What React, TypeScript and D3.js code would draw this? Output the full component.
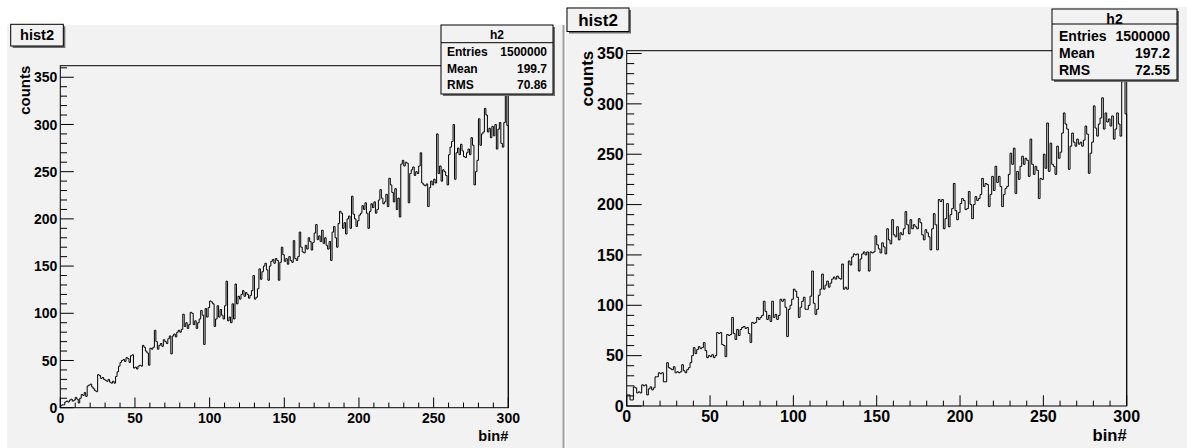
import React, { useRef, useEffect } from 'react';
import * as d3 from 'd3';

const xTicks = [0, 50, 100, 150, 200, 250, 300];
const yTicks = [0, 50, 100, 150, 200, 250, 300, 350];
const xMax = 300;

const leftCounts = [
  2, 3, 3, 6, 7, 6, 8, 9, 7, 8,
  11, 9, 5, 10, 14, 13, 16, 12, 23, 24,
  25, 22, 20, 18, 17, 35, 34, 31, 32, 30,
  29, 28, 30, 27, 26, 28, 26, 33, 38, 44,
  48, 50, 51, 49, 53, 52, 48, 55, 56, 42,
  43, 41, 44, 45, 44, 66, 64, 60, 58, 45,
  63, 62, 64, 82, 70, 62, 66, 68, 65, 72,
  70, 68, 73, 76, 57, 76, 78, 75, 80, 82,
  80, 83, 99, 86, 90, 84, 88, 101, 100, 88,
  92, 84, 90, 94, 103, 98, 67, 105, 96, 106,
  113, 112, 110, 86, 94, 108, 96, 104, 98, 94,
  108, 134, 92, 96, 90, 110, 94, 131, 110, 118,
  115, 120, 124, 118, 122, 120, 116, 119, 124, 140,
  115, 117, 126, 147, 136, 144, 150, 153, 146, 135,
  150, 155, 157, 153, 158, 156, 135, 154, 170, 162,
  155, 158, 152, 160, 156, 154, 177, 158, 156, 160,
  186, 170, 165, 164, 172, 168, 180, 176, 167, 175,
  185, 194, 178, 182, 176, 188, 174, 180, 172, 168,
  176, 156, 186, 192, 180, 170, 195, 208, 206, 190,
  196, 184, 200, 203, 190, 224, 205, 200, 192, 198,
  204, 206, 214, 210, 217, 206, 190, 208, 216, 212,
  218, 206, 210, 220, 231, 222, 216, 218, 226, 213,
  243, 236, 228, 218, 232, 210, 222, 202, 258, 262,
  256, 260, 259, 217, 248, 252, 255, 246, 250, 248,
  256, 270, 238, 236, 235, 237, 213, 233, 240, 236,
  242, 238, 290, 248, 256, 240, 252, 250, 246, 236,
  268, 276, 282, 300, 242, 270, 275, 268, 279, 272,
  266, 265, 270, 274, 268, 286, 278, 236, 250, 262,
  306, 278, 290, 292, 317, 310, 292, 296, 286, 298,
  288, 300, 274, 295, 302, 280, 276, 302, 345, 299,
];

const rightCounts = [
  11, 11, 6, 6, 19, 18, 13, 14, 13, 21,
  20, 21, 11, 17, 19, 16, 18, 29, 29, 33,
  32, 33, 24, 24, 43, 38, 37, 36, 39, 33,
  34, 33, 34, 41, 35, 33, 36, 38, 43, 50,
  58, 52, 56, 59, 57, 58, 63, 55, 48, 50,
  49, 51, 48, 50, 73, 72, 73, 61, 60, 49,
  71, 70, 71, 88, 72, 66, 76, 70, 76, 78,
  79, 77, 78, 72, 63, 83, 82, 83, 88, 86,
  88, 90, 104, 94, 86, 90, 84, 104, 88, 91,
  86, 90, 106, 104, 106, 98, 69, 96, 100, 106,
  116, 114, 108, 88, 98, 104, 108, 96, 96, 100,
  109, 134, 102, 91, 96, 110, 116, 131, 116, 120,
  124, 118, 122, 126, 128, 126, 129, 127, 126, 141,
  116, 118, 116, 144, 140, 148, 151, 150, 151, 134,
  146, 151, 153, 150, 153, 134, 153, 152, 153, 169,
  160, 156, 152, 162, 158, 151, 176, 165, 161, 185,
  170, 168, 178, 165, 172, 170, 176, 193, 180, 171,
  185, 176, 180, 178, 176, 186, 182, 170, 165, 175,
  172, 168, 155, 176, 191, 180, 155, 205, 203, 205,
  176, 186, 201, 178, 190, 196, 221, 194, 185, 192,
  201, 206, 204, 195, 196, 213, 200, 186, 200, 208,
  204, 206, 210, 226, 218, 221, 220, 198, 210, 228,
  214, 238, 222, 228, 218, 198, 210, 216, 218, 230,
  251, 240, 256, 211, 233, 225, 238, 248, 240, 246,
  244, 228, 265, 240, 230, 238, 234, 206, 226, 225,
  250, 236, 281, 233, 261, 240, 238, 230, 258, 246,
  252, 271, 291, 280, 275, 235, 258, 271, 262, 258,
  265, 260, 262, 258, 264, 278, 270, 231, 251, 262,
  298, 276, 268, 280, 286, 306, 275, 291, 282, 285,
  278, 288, 265, 275, 291, 280, 268, 322, 336, 290,
];

const statLabels = ['Entries', 'Mean', 'RMS'];
const leftStatValues = ['1500000', '199.7', '70.86'];
const rightStatValues = ['1500000', '197.2', '72.55'];

const font = '"Liberation Sans", Arial, sans-serif';
const padFill = '#f2f2f2';

const panels = [
  {
    counts: leftCounts,
    statValues: leftStatValues,
    pad: { x: 7, y: 25, w: 556, h: 423 },
    frame: { l: 60.3, r: 508.3, t: 65.7, b: 407.7 },
    labelSize: 14,
    axisTitleSize: 15,
    countsX: 25,
    binY: 436,
    title: { x: 10.7, y: 24.3, w: 52.6, h: 21.7, size: 14.6 },
    stats: { x: 441, y: 25, w: 112, h: 69, div: 17.7, rows: [10, 26.7, 43.3, 60], size: 12, padX: 6 },
  },
  {
    counts: rightCounts,
    statValues: rightStatValues,
    pad: { x: 566, y: 7, w: 621, h: 441 },
    frame: { l: 626.7, r: 1126.7, t: 50.7, b: 406 },
    labelSize: 16,
    axisTitleSize: 17,
    countsX: 587,
    binY: 435,
    title: { x: 567, y: 8, w: 62, h: 23.5, size: 17 },
    stats: { x: 1052, y: 9, w: 125, h: 71, div: 15, rows: [10, 27, 44, 61], size: 14, padX: 7 },
  },
];

const drawPanel = (svg, p) => {
  const g = svg.append('g');
  const { l, r, t, b } = p.frame;
  const yMax = d3.max(p.counts) * 1.05;

  const x = d3.scaleLinear().domain([0, xMax]).range([l, r]);
  const y = d3.scaleLinear().domain([0, yMax]).range([b, t]);

  g.append('rect')
    .attr('x', p.pad.x).attr('y', p.pad.y)
    .attr('width', p.pad.w).attr('height', p.pad.h)
    .attr('fill', padFill);

  // histogram outline
  const pts = [{ x: 0, y: 0 }]
    .concat(p.counts.map((v, i) => ({ x: i, y: v })))
    .concat([{ x: xMax, y: p.counts[p.counts.length - 1] }, { x: xMax, y: 0 }]);
  const line = d3.line().x(d => x(d.x)).y(d => y(d.y)).curve(d3.curveStepAfter);
  g.append('path')
    .attr('d', line(pts))
    .attr('fill', 'none')
    .attr('stroke', '#000')
    .attr('stroke-width', 1);

  // frame
  g.append('rect')
    .attr('x', l).attr('y', t)
    .attr('width', r - l).attr('height', b - t)
    .attr('fill', 'none').attr('stroke', '#000').attr('stroke-width', 1);

  // y ticks
  const yLen = 0.03 * (r - l);
  d3.range(0, yMax, 10).forEach(v => {
    const major = v % 50 === 0;
    g.append('line')
      .attr('x1', l).attr('x2', l + (major ? yLen : yLen / 2))
      .attr('y1', y(v)).attr('y2', y(v))
      .attr('stroke', '#000').attr('stroke-width', 1);
  });
  yTicks.filter(v => v <= yMax).forEach(v => {
    g.append('text')
      .attr('x', l - 3).attr('y', y(v)).attr('dy', '0.36em')
      .attr('text-anchor', 'end')
      .style('font-family', font).style('font-weight', 'bold')
      .style('font-size', p.labelSize + 'px')
      .text(v);
  });

  // x ticks
  const xLen = 0.03 * (b - t);
  d3.range(0, xMax + 1, 10).forEach(v => {
    const major = v % 50 === 0;
    g.append('line')
      .attr('x1', x(v)).attr('x2', x(v))
      .attr('y1', b).attr('y2', b - (major ? xLen : xLen / 2))
      .attr('stroke', '#000').attr('stroke-width', 1);
  });
  xTicks.forEach(v => {
    g.append('text')
      .attr('x', x(v)).attr('y', b + 10.5).attr('dy', '0.36em')
      .attr('text-anchor', 'middle')
      .style('font-family', font).style('font-weight', 'bold')
      .style('font-size', p.labelSize + 'px')
      .text(v);
  });

  // axis titles
  g.append('text')
    .attr('transform', `translate(${p.countsX},${t}) rotate(-90)`)
    .attr('dy', '0.36em')
    .attr('text-anchor', 'end')
    .style('font-family', font).style('font-weight', 'bold')
    .style('font-size', p.axisTitleSize + 'px')
    .text('counts');
  g.append('text')
    .attr('x', r).attr('y', p.binY).attr('dy', '0.36em')
    .attr('text-anchor', 'end')
    .style('font-family', font).style('font-weight', 'bold')
    .style('font-size', p.labelSize + 0.6 + 'px')
    .text('bin#');

  // title box
  const tb = p.title;
  g.append('rect')
    .attr('x', tb.x + 2).attr('y', tb.y + 2).attr('width', tb.w).attr('height', tb.h)
    .attr('fill', '#6e6e6e');
  g.append('rect')
    .attr('x', tb.x).attr('y', tb.y).attr('width', tb.w).attr('height', tb.h)
    .attr('fill', padFill).attr('stroke', '#000').attr('stroke-width', 1);
  g.append('text')
    .attr('x', tb.x + tb.w / 2).attr('y', tb.y + tb.h / 2).attr('dy', '0.36em')
    .attr('text-anchor', 'middle')
    .style('font-family', font).style('font-weight', 'bold')
    .style('font-size', tb.size + 'px')
    .text('hist2');

  // stats box
  const sb = p.stats;
  g.append('rect')
    .attr('x', sb.x + 2).attr('y', sb.y + 2).attr('width', sb.w).attr('height', sb.h)
    .attr('fill', '#6e6e6e');
  g.append('rect')
    .attr('x', sb.x).attr('y', sb.y).attr('width', sb.w).attr('height', sb.h)
    .attr('fill', padFill).attr('stroke', '#000').attr('stroke-width', 1);
  g.append('line')
    .attr('x1', sb.x).attr('x2', sb.x + sb.w)
    .attr('y1', sb.y + sb.div).attr('y2', sb.y + sb.div)
    .attr('stroke', '#000').attr('stroke-width', 1);
  g.append('text')
    .attr('x', sb.x + sb.w / 2).attr('y', sb.y + sb.rows[0]).attr('dy', '0.36em')
    .attr('text-anchor', 'middle')
    .style('font-family', font).style('font-weight', 'bold')
    .style('font-size', sb.size + 'px')
    .text('h2');
  statLabels.forEach((s, i) => {
    g.append('text')
      .attr('x', sb.x + sb.padX).attr('y', sb.y + sb.rows[i + 1]).attr('dy', '0.36em')
      .style('font-family', font).style('font-weight', 'bold')
      .style('font-size', sb.size + 'px')
      .text(s);
    g.append('text')
      .attr('x', sb.x + sb.w - sb.padX).attr('y', sb.y + sb.rows[i + 1]).attr('dy', '0.36em')
      .attr('text-anchor', 'end')
      .style('font-family', font).style('font-weight', 'bold')
      .style('font-size', sb.size + 'px')
      .text(p.statValues[i]);
  });
};

const App = () => {
  const svgRef = useRef(null);

  useEffect(() => {
    const svg = d3.select(svgRef.current);
    svg.selectAll('*').remove();
    svg.append('rect').attr('width', 1187).attr('height', 448).attr('fill', '#fff');
    panels.forEach(p => drawPanel(svg, p));
    // pad separator
    svg.append('rect')
      .attr('x', 562.5).attr('y', 25).attr('width', 2).attr('height', 423)
      .attr('fill', '#a0a0a0');
  }, []);

  return (
    <>
      <style>{'body{margin:0;overflow:hidden}'}</style>
      <svg ref={svgRef} width={1187} height={448} style={{ display: 'block' }}></svg>
    </>
  );
};

export default App;
